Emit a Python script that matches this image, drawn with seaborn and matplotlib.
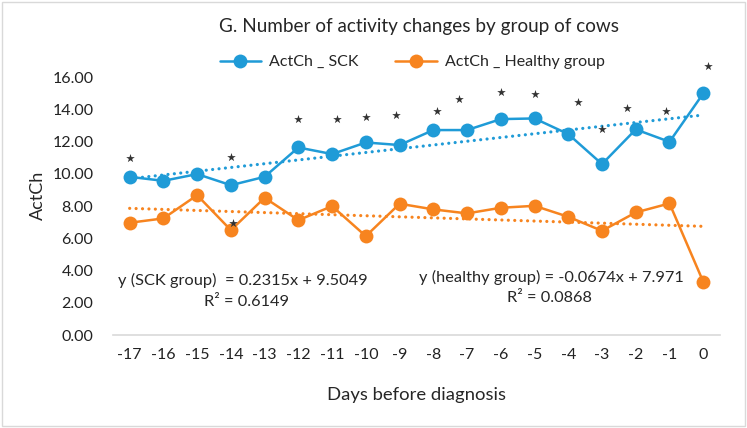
import seaborn as sns
import pandas as pd
import matplotlib.pyplot as plt
from matplotlib.patches import Rectangle

# days before diagnosis
days = [-17, -16, -15, -14, -13, -12, -11, -10, -9, -8, -7, -6, -5, -4, -3, -2, -1, 0]
sck = [9.82, 9.57, 9.99, 9.30, 9.82, 11.64, 11.23, 11.95, 11.79, 12.72, 12.72,
       13.40, 13.44, 12.47, 10.61, 12.76, 11.99, 14.99]
healthy = [6.97, 7.24, 8.68, 6.51, 8.52, 7.13, 8.00, 6.14, 8.15, 7.80, 7.55,
           7.90, 8.02, 7.34, 6.47, 7.61, 8.17, 3.31]

# significance stars (x, y)
star_x = [-17, -14, -13.95, -12, -10.85, -10, -9.1, -7.9, -7.25, -6, -5, -3.7, -3, -2.25, -1.1, 0.15]
star_y = [11.0, 11.06, 6.97, 13.38, 13.38, 13.54, 13.65, 13.9, 14.62, 15.06, 14.95, 14.43, 12.76, 14.1, 13.9, 16.69]

sck_label = 'ActCh _ SCK'
healthy_label = 'ActCh _ Healthy group'
sck_eq = 'y (SCK group)  = 0.2315x + 9.5049'
sck_r2 = 'R² = 0.6149'
healthy_eq = 'y (healthy group) = -0.0674x + 7.971'
healthy_r2 = 'R² = 0.0868'

blue = '#1f9bd7'
orange = '#f7841f'

df = pd.DataFrame({
    'day': days * 2,
    'value': sck + healthy,
    'group': [sck_label] * len(days) + [healthy_label] * len(days),
})

sns.set_style('white')
plt.rcParams['font.family'] = ['Lato', 'DejaVu Sans']
plt.rcParams['axes.unicode_minus'] = False

fig = plt.figure(figsize=(7.47, 4.28), dpi=100)
ax = fig.add_axes([0.151, 0.217, 0.813, 0.678])

sns.lineplot(data=df, x='day', y='value', hue='group', palette=[blue, orange],
             marker='o', markersize=10, markeredgewidth=0, linewidth=1.8, ax=ax)

dot = (0, (0.01, 2.0))
sns.regplot(x=days, y=sck, scatter=False, ci=None, ax=ax,
            line_kws=dict(color=blue, linestyle=dot, linewidth=2.3, dash_capstyle='round'))
sns.regplot(x=days, y=healthy, scatter=False, ci=None, ax=ax,
            line_kws=dict(color=orange, linestyle=dot, linewidth=2.3, dash_capstyle='round'))

ax.scatter(star_x, star_y, marker='*', s=42, color='#333333', linewidths=0, zorder=5)

ax.text(-13.65, 3.41, sck_eq, ha='center', va='center', fontsize=11.8)
ax.text(-13.55, 2.05, sck_r2, ha='center', va='center', fontsize=11.8)
ax.text(-4.5, 3.6, healthy_eq, ha='center', va='center', fontsize=11.8)
ax.text(-4.55, 2.3, healthy_r2, ha='center', va='center', fontsize=11.8)

ax.set_xlim(-17.5, 0.5)
ax.set_ylim(0, 18)
ax.set_xticks(days)
ax.set_yticks(range(0, 17, 2))
ax.set_yticklabels([f'{v:.2f}' for v in range(0, 17, 2)])
ax.tick_params(axis='both', length=0, labelsize=11.5, colors='#222222')
ax.tick_params(axis='x', pad=9)
ax.tick_params(axis='y', pad=14)
for side in ['top', 'right', 'left']:
    ax.spines[side].set_visible(False)
ax.spines['bottom'].set_color('#d9d9d9')
ax.spines['bottom'].set_linewidth(1.2)

ax.set_xlabel('Days before diagnosis', fontsize=13.3, labelpad=18)
ax.set_ylabel('ActCh', fontsize=13, labelpad=8)
ax.yaxis.set_label_coords(-0.11, 0.48)

handles, labels = ax.get_legend_handles_labels()
ax.legend(handles[:2], labels[:2], loc='center', bbox_to_anchor=(0.493, 0.941),
          ncol=2, frameon=False, fontsize=11.5, handlelength=2.6, columnspacing=2.3,
          handletextpad=0.5)

fig.text(0.561, 0.937, 'G. Number of activity changes by group of cows',
         ha='center', va='center', fontsize=13.6)

fig.patches.append(Rectangle((0.003, 0.004), 0.994, 0.992, transform=fig.transFigure,
                             fill=False, edgecolor='#d9d9d9', linewidth=1))

fig.savefig('out.png', dpi=100)
